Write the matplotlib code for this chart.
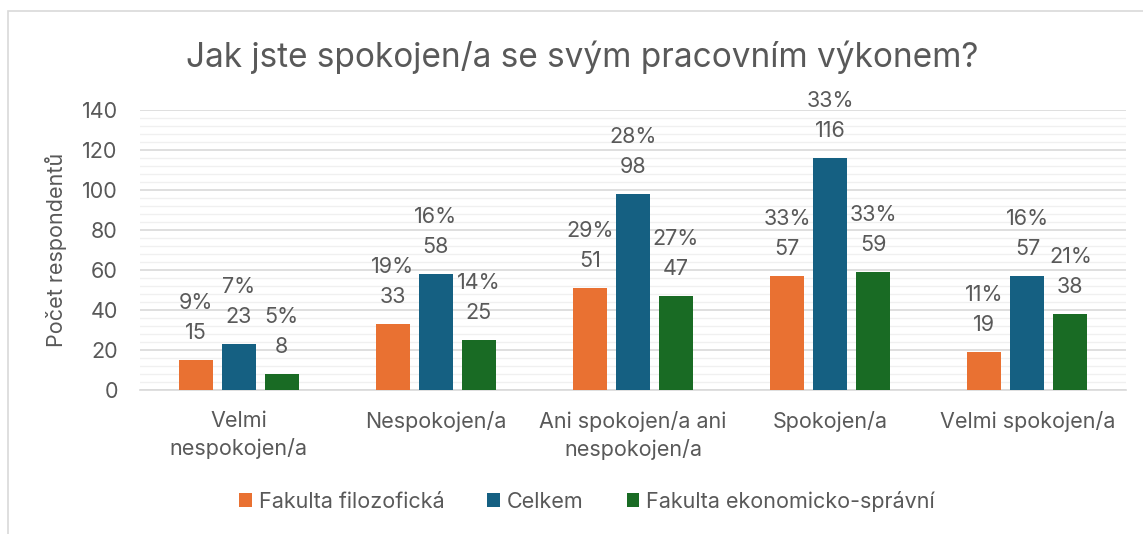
import matplotlib
matplotlib.use("Agg")
import matplotlib.pyplot as plt
import numpy as np
from matplotlib.patches import Rectangle

categories = ["Velmi\nnespokojen/a", "Nespokojen/a", "Ani spokojen/a ani\nnespokojen/a",
              "Spokojen/a", "Velmi spokojen/a"]
series_names = ["Fakulta filozofická", "Celkem", "Fakulta ekonomicko-správní"]
ff_counts = [15, 33, 51, 57, 19]
ff_pct = [9, 19, 29, 33, 11]
celkem_counts = [23, 58, 98, 116, 57]
celkem_pct = [7, 16, 28, 33, 16]
fes_counts = [8, 25, 47, 59, 38]
fes_pct = [5, 14, 27, 33, 21]
yticks = [0, 20, 40, 60, 80, 100, 120, 140]

colors = ["#E97132", "#156082", "#196B24"]
txt = "#595959"
fs = 15.5

plt.rcParams['font.family'] = ['Inter', 'DejaVu Sans']

fig = plt.figure(figsize=(11.43, 5.34), dpi=100)
fig.patches.append(Rectangle((8/1143, -0.1), 1.2, (534-11)/534 + 0.1, transform=fig.transFigure,
                             fill=False, edgecolor="#d9d9d9", linewidth=1.2))
ax = fig.add_axes([140/1143, 1-390/534, (1126-140)/1143, (390-110)/534])

x = np.arange(len(categories))
w = 0.172
off = 0.218
data = [(ff_counts, ff_pct), (celkem_counts, celkem_pct), (fes_counts, fes_pct)]
for k, (cnt, pct) in enumerate(data):
    xs = x + (k - 1) * off
    ax.bar(xs, cnt, width=w, color=colors[k], label=series_names[k], zorder=3)
    for xi, c, p in zip(xs, cnt, pct):
        ax.annotate(str(c), (xi, c), xytext=(0, 19.5), textcoords="offset points",
                    ha="center", va="center", fontsize=fs, color=txt, zorder=4)
        ax.annotate(f"{p}%", (xi, c), xytext=(0, 41), textcoords="offset points",
                    ha="center", va="center", fontsize=fs, color=txt, zorder=4)

ax.set_xlim(-0.5, 4.5)
ax.set_ylim(0, 140)
ax.set_yticks(yticks)
ax.set_yticks(np.arange(0, 141, 4), minor=True)
ax.yaxis.grid(True, which="major", color="#d9d9d9", linewidth=1.2, zorder=0)
ax.yaxis.grid(True, which="minor", color="#f0f0f0", linewidth=1.0, zorder=0)
ax.set_xticks(x)
ax.set_xticklabels(categories, fontsize=fs, color=txt, linespacing=1.4)
ax.tick_params(axis="x", length=0, pad=15)
ax.tick_params(axis="y", which="both", length=0, pad=16, labelsize=fs, labelcolor=txt)
for s in ["top", "right", "left"]:
    ax.spines[s].set_visible(False)
ax.spines["bottom"].set_color("#d9d9d9")
ax.spines["bottom"].set_linewidth(1.2)
ax.set_axisbelow(True)

ax.set_ylabel("Počet respondentů", fontsize=fs, color=txt)
ax.yaxis.set_label_coords(-73/986, 0.5)

fig.text(582/1143, 1-57/534, "Jak jste spokojen/a se svým pracovním výkonem?",
         ha="center", va="center", fontsize=24, color=txt)

fig.legend(loc="center", bbox_to_anchor=(587/1143, 1-501/534), ncol=3, frameon=False,
           fontsize=fs, labelcolor=txt, handlelength=0.6, handleheight=0.6,
           handletextpad=0.3, columnspacing=2.0)

fig.savefig("out.png", dpi=100)
